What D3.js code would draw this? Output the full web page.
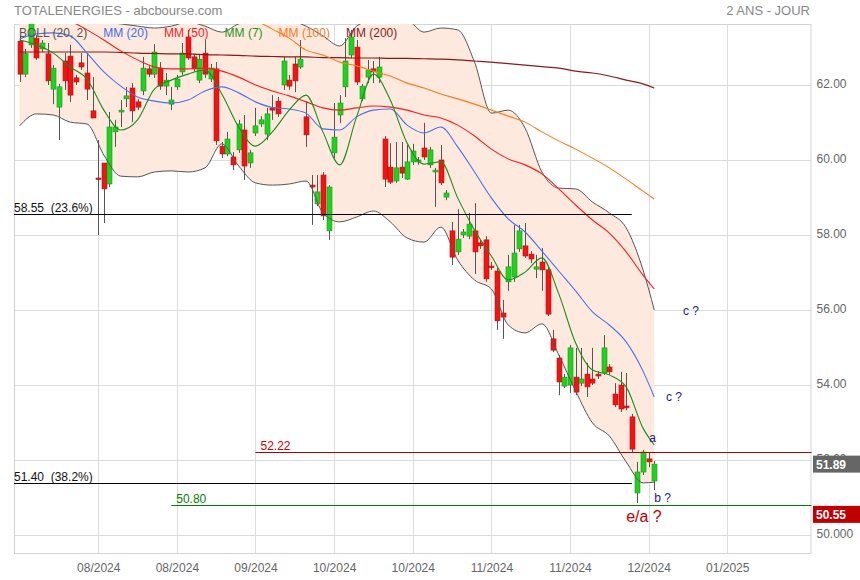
<!DOCTYPE html>
<html><head><meta charset="utf-8">
<script src="https://cdn.jsdelivr.net/npm/d3@7"></script>
<style>body{margin:0;background:#fff;} svg{display:block;font-family:"Liberation Sans",Arial,sans-serif;}</style>
</head><body><svg id="c" width="860" height="580"></svg>
<script>
// ---- DATA ----
const open  = [63.17,62.29,63.07,63.25,62.96,62.83,61.89,61.41,62.64,62.77,62.19,62.59,62.32,61.31,59.52,59.92,59.36,60.75,61.28,61.63,61.92,61.55,61.84,62.43,62.29,62.45,61.97,61.49,61.95,62.35,63.28,62.75,62.13,62.85,62.16,62.43,60.37,60.16,60.08,60.27,60.80,59.92,60.72,60.96,60.69,61.39,61.57,62.00,62.13,62.56,62.48,61.15,59.33,58.83,59.60,58.11,60.19,61.20,61.95,62.80,63.01,61.63,62.21,62.43,62.21,60.56,59.81,59.44,59.81,59.49,59.95,59.95,60.32,59.87,59.68,60.00,59.01,58.11,57.55,58.00,57.97,58.11,57.79,57.87,57.17,57.04,55.92,56.75,56.88,57.63,57.71,57.49,57.09,57.28,57.07,55.23,54.72,53.97,54.00,54.21,54.05,54.29,54.16,54.29,54.32,54.48,53.76,54.00,53.44,53.15,51.12,51.68,52.03,51.44];
const high  = [63.31,62.96,63.75,63.33,63.20,63.12,62.53,62.03,62.85,63.07,62.27,62.85,62.85,62.21,60.53,59.92,61.28,61.07,61.60,61.95,62.05,61.63,62.75,62.53,63.09,62.61,62.32,61.95,62.27,63.12,63.47,62.83,62.80,63.20,62.56,62.61,60.48,60.75,60.21,61.07,61.20,60.27,61.39,61.17,61.39,61.73,61.68,62.75,62.27,62.75,63.20,61.55,59.60,59.60,59.68,59.33,61.52,61.73,63.25,63.47,63.20,62.03,62.67,62.64,62.75,60.64,60.45,60.48,60.48,60.40,60.43,60.08,60.99,60.35,59.79,60.40,59.20,58.35,58.69,58.16,58.59,58.85,57.87,57.97,57.28,57.12,56.27,57.47,58.27,58.27,58.32,57.57,57.47,57.65,57.15,55.47,54.80,54.29,55.07,54.99,54.99,54.59,54.99,54.37,55.33,54.56,54.05,54.35,54.32,53.23,51.95,52.27,52.21,51.97];
const low   = [62.08,62.21,62.99,62.67,62.88,62.00,61.49,60.53,61.87,61.55,62.00,62.40,61.60,61.12,58.00,58.32,59.28,60.35,60.88,61.41,61.01,61.33,61.73,62.21,62.19,61.87,61.73,61.33,61.87,62.27,62.67,62.35,62.05,62.19,62.08,60.40,60.05,60.10,59.73,60.19,59.47,59.79,60.64,60.88,60.53,61.07,61.15,61.87,61.87,61.81,62.43,60.35,58.27,58.77,58.40,57.87,60.05,60.99,61.68,62.72,62.00,61.57,62.05,62.05,62.05,59.28,59.36,59.39,59.52,59.47,59.87,59.87,60.00,59.79,58.75,59.33,58.93,57.20,57.47,57.92,57.89,56.96,57.63,56.75,57.07,55.47,55.23,56.51,56.75,57.55,57.39,57.25,56.85,56.51,55.84,54.88,53.73,53.92,53.79,53.73,53.97,53.68,54.00,54.16,54.27,54.27,53.41,53.28,53.33,52.19,50.85,51.60,51.81,51.20];
const close = [62.29,62.85,63.68,62.72,63.12,62.11,62.45,61.95,62.11,61.73,62.08,62.48,61.89,61.12,59.49,59.23,60.88,60.88,61.33,61.71,61.31,61.41,62.45,62.29,62.88,61.97,62.13,61.60,62.16,62.85,62.72,62.43,62.69,62.29,62.45,60.51,60.16,60.56,59.87,60.96,59.84,60.19,60.91,61.07,61.23,61.33,61.23,62.64,61.97,62.11,62.69,60.67,59.28,59.15,58.51,59.28,60.61,61.52,62.64,63.28,62.08,61.97,62.40,62.35,62.48,59.49,59.41,59.79,59.65,59.95,60.24,60.00,60.08,60.27,59.73,59.39,59.12,57.41,57.89,58.08,58.29,57.55,57.71,56.83,57.15,55.71,55.81,57.15,57.52,58.11,57.44,57.36,57.15,57.07,55.89,54.93,54.08,54.21,54.99,53.81,54.16,53.95,54.05,54.24,54.99,54.35,53.47,53.36,53.39,52.29,51.68,52.21,51.95,51.89];

// indicator lines, read at these candle indices
const sampleIdx = [0,3,6,9,12,15,18,21,24,27,30,33,36,39,42,45,48,51,54,57,60,63,66,69,72,75,78,81,84,87,90,93,96,99,102,105,108,111,113];
const mm7   = [63.20,63.07,62.85,62.48,62.16,61.33,60.80,61.07,61.89,62.13,62.29,62.40,61.76,60.88,60.37,60.75,61.33,61.73,60.75,59.87,61.15,62.29,61.60,60.45,59.89,59.95,58.99,58.13,57.44,56.80,57.01,57.39,56.43,55.12,54.40,54.27,53.95,52.85,52.40];
const mm20  = [63.23,63.36,63.39,63.31,62.85,62.35,61.97,61.68,61.57,61.52,61.60,61.84,61.95,61.79,61.55,61.40,61.36,61.25,60.83,60.80,61.15,61.33,61.36,60.93,60.72,60.88,60.35,59.68,58.99,58.43,58.08,57.57,57.04,56.51,55.95,55.60,55.15,54.37,53.68];
const mm50  = [64.13,64.00,63.87,63.71,63.47,63.20,62.91,62.67,62.48,62.43,62.43,62.45,62.37,62.21,62.00,61.84,61.71,61.55,61.39,61.33,61.39,61.44,61.41,61.33,61.20,61.12,60.93,60.64,60.29,60.03,59.87,59.63,59.23,58.80,58.40,58.05,57.55,56.93,56.56];
const mm100 = [65.87,65.73,65.60,65.47,65.33,65.20,65.07,64.93,64.80,64.64,64.48,64.32,64.13,63.95,63.73,63.49,63.25,62.93,62.80,62.61,62.51,62.37,62.24,62.05,61.92,61.76,61.63,61.49,61.33,61.17,61.01,60.75,60.51,60.29,60.05,59.79,59.49,59.17,58.96];
const mm200 = [62.88,62.88,62.88,62.88,62.88,62.88,62.87,62.85,62.84,62.83,62.83,62.81,62.80,62.79,62.77,62.76,62.75,62.75,62.73,62.73,62.72,62.72,62.71,62.71,62.70,62.69,62.67,62.64,62.61,62.57,62.53,62.49,62.45,62.37,62.32,62.24,62.13,62.03,61.92];
const bollUp  = [64.00,63.95,63.89,63.81,63.73,63.68,63.63,63.57,63.52,63.57,63.68,63.57,63.41,63.63,63.73,63.79,63.73,63.57,63.31,63.04,63.57,63.73,63.79,63.73,63.41,63.52,63.47,62.61,61.25,61.33,60.85,59.68,59.25,59.23,58.88,58.59,58.19,57.07,56.00];
const bollLow = [60.91,61.23,61.20,61.01,60.96,60.13,59.57,59.55,59.68,59.71,59.68,59.79,60.43,59.84,59.39,59.33,59.36,59.44,58.59,58.35,58.48,58.64,58.35,57.92,57.81,58.21,57.33,56.80,56.56,55.60,55.39,55.63,54.80,53.84,52.99,52.64,51.95,51.39,51.41];

const yTicks = [62,60,58,56,54,52,50];
const yTickLabels = ["62.00","60.00","58.00","56.00","54.00","52.00","50.000"];
const xTickIdx = [14,28,42,56,70,84,98,112,126];
const xTickLabels = ["08/2024","08/2024","09/2024","10/2024","10/2024","11/2024","11/2024","12/2024","01/2025"];

const levelValues = [58.55,51.40,52.22,50.80];
const levelLabels = ["58.55  (23.6%)","51.40  (38.2%)","52.22","50.80"];
const levelStart  = [-1,-1,42,27];
const levelEnd    = [109,109,141,141];

const annotText = ["c ?","c ?","a","b ?","e/a ?"];
const annotIdx  = [118.1,115.1,112.1,113.0,108.0];
const annotVal  = [55.87,53.57,52.48,50.88,50.35];

const tagValues = [51.89,50.55];
const legendLabels = ["BOLL (20, 2)","MM (20)","MM (50)","MM (7)","MM (100)","MM (200)"];

// ---- STYLES ----
const levelColors = ["#000","#000","#b30000","#008000"];
const levelLabelColors = ["#111","#111","#cc0000","#008000"];
const annotColors = ["#1a1a8c","#1a1a8c","#1a1a8c","#1a1a8c","#c00000"];
const annotSizes = [12,12,12,12,16];
const tagColors = ["#666","#c00000"];
const legendColors = ["#555","#3e6cf0","#ff1a1a","#1a9a1a","#ff7a1a","#8b1a1a"];

// ---- CHART ----
const svg = d3.select("#c");
const P = {l:14, r:811.5, t:24, b:554};
const x = d3.scaleLinear().domain([-1,141]).range([P.l,P.r]);
const y = d3.scaleLinear().domain([50,62]).range([535,85]);

svg.append("defs").append("clipPath").attr("id","clip")
  .append("rect").attr("x",P.l).attr("y",P.t).attr("width",P.r-P.l).attr("height",P.b-P.t);

// grid
const grid = svg.append("g").attr("stroke","#dcdcdc").attr("stroke-width",1);
grid.selectAll("line.h").data(yTicks).join("line").attr("class","h")
  .attr("x1",P.l).attr("x2",P.r).attr("y1",d=>Math.round(y(d))+0.5).attr("y2",d=>Math.round(y(d))+0.5);
grid.selectAll("line.v").data(xTickIdx).join("line").attr("class","v")
  .attr("y1",P.t).attr("y2",P.b).attr("x1",d=>Math.round(x(d))+0.5).attr("x2",d=>Math.round(x(d))+0.5);
svg.append("rect").attr("x",P.l+0.5).attr("y",P.t+0.5).attr("width",P.r-P.l-1).attr("height",P.b-P.t-1)
  .attr("fill","none").attr("stroke","#d4d4d4");

const plot = svg.append("g").attr("clip-path","url(#clip)");
const sx = i => x(sampleIdx[i]);

// bollinger fill
plot.append("path").datum(sampleIdx.map((d,i)=>i))
  .attr("d", d3.area().x(sx).y0(i=>y(bollLow[i])).y1(i=>y(bollUp[i])).curve(d3.curveMonotoneX))
  .attr("fill","#fde9dd");

// candles
const cg = plot.append("g");
const idx = d3.range(open.length);
cg.selectAll("line").data(idx).join("line")
  .attr("x1",i=>Math.round(x(i))+0.5).attr("x2",i=>Math.round(x(i))+0.5)
  .attr("y1",i=>y(high[i])).attr("y2",i=>y(low[i]))
  .attr("stroke","#555").attr("stroke-width",1);
cg.selectAll("rect").data(idx).join("rect")
  .attr("x",i=>Math.round(x(i))-2)
  .attr("width",5)
  .attr("y",i=>y(Math.max(open[i],close[i])))
  .attr("height",i=>Math.max(1.5, Math.abs(y(open[i])-y(close[i]))))
  .attr("fill",i=>close[i]>=open[i]?"#22d022":"#f01515")
  .attr("stroke",i=>close[i]>=open[i]?"#199b19":"#b81010").attr("stroke-width",0.6);

// lines
function drawLine(vals,color,w){
  plot.append("path").datum(sampleIdx.map((d,i)=>i))
    .attr("d", d3.line().x(sx).y(i=>y(vals[i])).curve(d3.curveMonotoneX))
    .attr("fill","none").attr("stroke",color).attr("stroke-width",w);
}
drawLine(bollUp,"#555",1);
drawLine(bollLow,"#555",1);
drawLine(mm200,"#8b1a1a",1.2);
drawLine(mm100,"#ff7a1a",1.1);
drawLine(mm50,"#ff1a1a",1.1);
drawLine(mm20,"#4a72f0",1.1);
drawLine(mm7,"#1a8f1a",1.1);

// level lines
levelValues.forEach((v,k)=>{
  const yy = Math.round(y(v))+0.5;
  svg.append("line").attr("x1",x(levelStart[k])).attr("x2",x(levelEnd[k]))
    .attr("y1",yy).attr("y2",yy).attr("stroke",levelColors[k]).attr("stroke-width",k<2?1.2:1);
  svg.append("text").attr("x",x(levelStart[k])+(k<2?0:5)).attr("y",yy-3)
    .attr("font-size",12).attr("fill",levelLabelColors[k]).style("white-space","pre")
    .text(levelLabels[k]);
});

// annotations
annotText.forEach((t,k)=>{
  svg.append("text").attr("x",x(annotIdx[k])).attr("y",y(annotVal[k]))
    .attr("font-size",annotSizes[k]).attr("fill",annotColors[k]).text(t);
});

// legend
let lx = 19;
legendLabels.forEach((t,k)=>{
  const tx = svg.append("text").attr("x",lx).attr("y",37).attr("font-size",12)
    .attr("fill",legendColors[k]).text(t);
  lx += tx.node().getComputedTextLength() + 16;
});

// axes
const yAxis = d3.axisRight(y).tickValues(yTicks).tickFormat((d,i)=>yTickLabels[i]).tickSize(0).tickPadding(5);
const gy = svg.append("g").attr("transform",`translate(${P.r},-1)`).call(yAxis);
gy.select(".domain").remove();
gy.selectAll("text").attr("font-size",12).attr("fill","#666").attr("font-family","Liberation Sans, Arial, sans-serif");

const xAxis = d3.axisBottom(x).tickValues(xTickIdx).tickFormat((d,i)=>xTickLabels[i]).tickSize(0).tickPadding(9);
const gx = svg.append("g").attr("transform",`translate(0,${P.b})`).call(xAxis);
gx.select(".domain").remove();
gx.selectAll("text").attr("font-size",12).attr("fill","#666").attr("font-family","Liberation Sans, Arial, sans-serif");

// price tags
tagValues.forEach((v,k)=>{
  const yy = y(v);
  svg.append("rect").attr("x",813).attr("y",yy-8.5).attr("width",47).attr("height",17).attr("fill",tagColors[k]);
  svg.append("text").attr("x",816).attr("y",yy+4.5).attr("font-size",12).attr("font-weight","bold")
    .attr("fill","#fff").text(v.toFixed(2));
});

// titles
svg.append("text").attr("x",14).attr("y",15).attr("font-size",13).attr("fill","#888").text("TOTALENERGIES - abcbourse.com");
svg.append("text").attr("x",810).attr("y",15).attr("font-size",13).attr("fill","#888").attr("text-anchor","end").text("2 ANS - JOUR");
</script></body></html>
